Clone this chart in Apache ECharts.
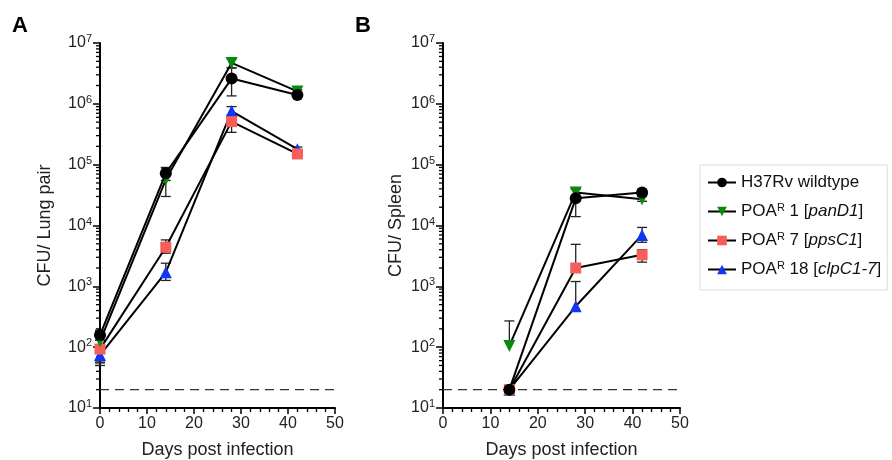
<!DOCTYPE html>
<html><head><meta charset="utf-8">
<script src="https://cdn.jsdelivr.net/npm/echarts@6/dist/echarts.min.js"></script>
<style>html,body{margin:0;padding:0;background:#fff}#c{width:892px;height:460px}</style>
</head><body><div id="c"></div>
<script>
// ---- data ----
const lungDays = [0, 14, 28, 42];
const spleenDays = [14, 28, 42];
const seriesNames = ['H37Rv wildtype', 'POAR 1 [panD1]', 'POAR 7 [ppsC1]', 'POAR 18 [clpC1-7]'];
const detectionLimit = 20;
const xTicks = [0, 10, 20, 30, 40, 50];
const yMin = 10, yMax = 1e7;

const lungH37 = [158, 72000, 2600000, 1400000];
const lungPanD1 = [125, 57000, 4700000, 1600000];
const lungPpsC1 = [93, 4400, 510000, 150000];
const lungClpC1 = [74, 1700, 760000, 180000];
const lungH37Err = [[130, 190], [55000, 90000], [1350000, 3900000], [1300000, 1550000]];
const lungPanD1Err = [[57, 180], [30000, 88000], [3900000, 5500000], [1500000, 1700000]];
const lungPpsC1Err = [[55, 130], [3500, 5800], [340000, 650000], [140000, 160000]];
const lungClpC1Err = [[50, 100], [1250, 2400], [600000, 900000], [165000, 195000]];

const spleenH37 = [20, 28000, 35000];
const spleenPanD1 = [105, 35000, 27000];
const spleenPpsC1 = [20, 2000, 3300];
const spleenClpC1 = [20, 470, 7000];
const spleenH37Err = [[20, 20], [14000, 40000], [32000, 38000]];
const spleenPanD1Err = [[105, 270], [30000, 40000], [25000, 30000]];
const spleenPpsC1Err = [[20, 20], [2000, 4900], [2500, 4000]];
const spleenClpC1Err = [[20, 20], [470, 1200], [5300, 9300]];

// ---- styles ----
const colors = ['#000000', '#0a8a0a', '#f75d59', '#1234f5'];
const symbols = ['circle', 'path://M0,0 L10,0 L5,9 Z', 'rect', 'triangle'];
const symbolSizes = [12, 12, 11, 12];
const FONT = 'Liberation Sans, Arial, sans-serif';

const chart = echarts.init(document.getElementById('c'), null, {renderer: 'canvas'});

function pairs(xs, ys) { return xs.map((x, i) => [x, ys[i]]); }
function errData(xs, ys, errs) { return xs.map((x, i) => [x, ys[i], errs[i][0], errs[i][1]]); }

function errRender(params, api) {
  const x = api.value(0), m = api.value(1), lo = api.value(2), hi = api.value(3);
  const pLo = api.coord([x, lo]), pHi = api.coord([x, hi]);
  const w = 5, st = {stroke: '#222', lineWidth: 1.3};
  const ch = [{type: 'line', shape: {x1: pLo[0], y1: pLo[1], x2: pHi[0], y2: pHi[1]}, style: st}];
  if (hi > m) ch.push({type: 'line', shape: {x1: pHi[0] - w, y1: pHi[1], x2: pHi[0] + w, y2: pHi[1]}, style: st});
  if (lo < m) ch.push({type: 'line', shape: {x1: pLo[0] - w, y1: pLo[1], x2: pLo[0] + w, y2: pLo[1]}, style: st});
  return {type: 'group', children: ch};
}

const minorVals = [];
for (let k = 1; k < 7; k++) for (let m = 2; m <= 9; m++) minorVals.push([0, m * Math.pow(10, k)]);
function minorRender(params, api) {
  const p = api.coord([api.value(0), api.value(1)]);
  return {type: 'line', shape: {x1: p[0] - 4, y1: p[1], x2: p[0], y2: p[1]}, style: {stroke: '#000', lineWidth: 1.3}};
}

function xAxis(gi) {
  return {
    type: 'value', gridIndex: gi, min: 0, max: 50, interval: 10,
    name: 'Days post infection', nameLocation: 'middle', nameGap: 33,
    nameTextStyle: {fontFamily: FONT, fontSize: 18, color: '#222'},
    axisLine: {lineStyle: {color: '#000', width: 2}},
    axisTick: {length: 6, lineStyle: {color: '#000', width: 1.5}},
    minorTick: {show: true, splitNumber: 5, length: 4, lineStyle: {color: '#000', width: 1.3}},
    axisLabel: {fontFamily: FONT, fontSize: 16, color: '#222', margin: 8},
    splitLine: {show: false}
  };
}
function yAxis(gi, name, gap) {
  return {
    type: 'log', logBase: 10, gridIndex: gi, min: yMin, max: yMax,
    name: name, nameLocation: 'middle', nameGap: gap,
    nameTextStyle: {fontFamily: FONT, fontSize: 18, color: '#222'},
    axisLine: {show: true, lineStyle: {color: '#000', width: 2}},
    axisTick: {show: true, length: 7, lineStyle: {color: '#000', width: 1.5}},
    axisLabel: {
      fontFamily: FONT, fontSize: 16, color: '#222', margin: 8,
      formatter: v => '10{s|' + Math.round(Math.log10(v)) + '}',
      rich: {s: {fontFamily: FONT, fontSize: 11, color: '#222', verticalAlign: 'top', padding: [0, 0, 8, 0]}}
    },
    splitLine: {show: false}
  };
}

const series = [];
function addPanel(gi, xs, groups, errs) {
  series.push({type: 'line', xAxisIndex: gi, yAxisIndex: gi, data: [[0, detectionLimit], [50, detectionLimit]],
    symbol: 'none', silent: true, lineStyle: {color: '#333', width: 1.2, type: [9, 6]}, z: 1});
  series.push({type: 'custom', xAxisIndex: gi, yAxisIndex: gi, data: minorVals, renderItem: minorRender, silent: true, z: 1});
  groups.forEach((ys, i) => {
    series.push({type: 'custom', xAxisIndex: gi, yAxisIndex: gi, data: errData(xs, ys, errs[i]),
      renderItem: errRender, silent: true, z: 2});
  });
  groups.forEach((ys, i) => {
    series.push({type: 'line', name: seriesNames[i], xAxisIndex: gi, yAxisIndex: gi, data: pairs(xs, ys),
      symbol: symbols[i], symbolSize: symbolSizes[i], showAllSymbol: true,
      lineStyle: {color: '#000', width: 2}, itemStyle: {color: colors[i], borderWidth: 0},
      z: 3 + (3 - i)});
  });
}
addPanel(0, lungDays, [lungH37, lungPanD1, lungPpsC1, lungClpC1], [lungH37Err, lungPanD1Err, lungPpsC1Err, lungClpC1Err]);
addPanel(1, spleenDays, [spleenH37, spleenPanD1, spleenPpsC1, spleenClpC1], [spleenH37Err, spleenPanD1Err, spleenPpsC1Err, spleenClpC1Err]);

const legendFmt = {
  'H37Rv wildtype': 'H37Rv wildtype',
  'POAR 1 [panD1]': 'POA{s|R} 1 [{i|panD1}]',
  'POAR 7 [ppsC1]': 'POA{s|R} 7 [{i|ppsC1}]',
  'POAR 18 [clpC1-7]': 'POA{s|R} 18 [{i|clpC1-7}]'
};

chart.setOption({
  animation: false,
  backgroundColor: '#fff',
  title: [
    {text: 'A', left: 7, top: 10, textStyle: {fontFamily: FONT, fontSize: 22, fontWeight: 'bold', color: '#000'}},
    {text: 'B', left: 350, top: 10, textStyle: {fontFamily: FONT, fontSize: 22, fontWeight: 'bold', color: '#000'}}
  ],
  grid: [
    {left: 100, top: 43, width: 235, height: 365, outerBoundsMode: 'none', containLabel: false},
    {left: 443, top: 43, width: 237, height: 365, outerBoundsMode: 'none', containLabel: false}
  ],
  xAxis: [xAxis(0), xAxis(1)],
  yAxis: [yAxis(0, 'CFU/ Lung pair', 46), yAxis(1, 'CFU/ Spleen', 38)],
  legend: {
    data: seriesNames, orient: 'vertical', left: 700, top: 165,
    padding: [9, 6, 12, 7], itemGap: 11, itemWidth: 28, itemHeight: 12,
    borderColor: '#dddddd', borderWidth: 1,
    formatter: n => legendFmt[n],
    textStyle: {fontFamily: FONT, fontSize: 17, color: '#111',
      rich: {s: {fontFamily: FONT, fontSize: 11, color: '#111', verticalAlign: 'top', padding: [0, 0, 8, 0]},
             i: {fontFamily: FONT, fontSize: 17, color: '#111', fontStyle: 'italic'}}}
  },
  series: series
});
</script></body></html>
